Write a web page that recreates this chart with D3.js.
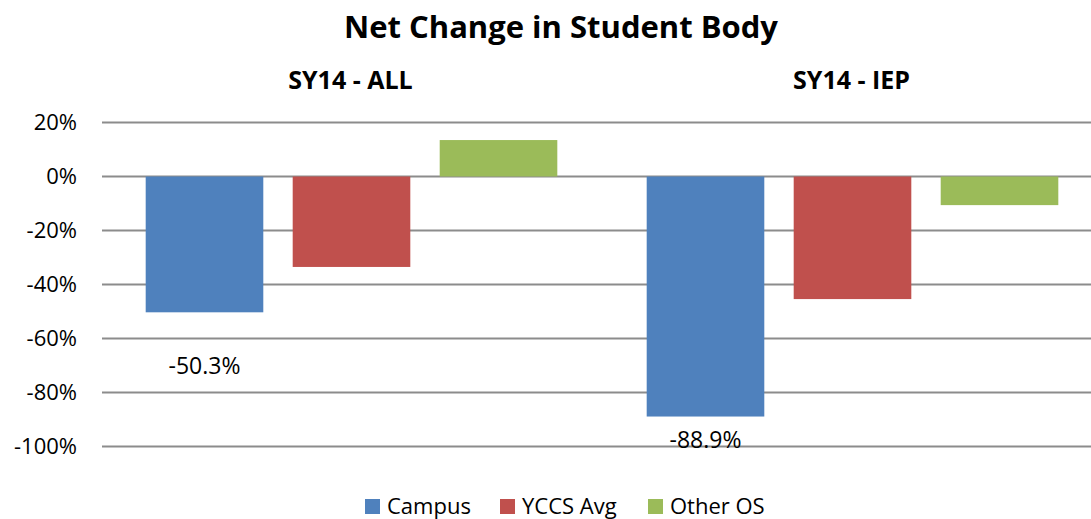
<!DOCTYPE html>
<html>
<head>
<meta charset="utf-8">
<script src="https://cdnjs.cloudflare.com/ajax/libs/d3/7.8.5/d3.min.js"></script>
<style>
  body { margin: 0; background: #fff; }
  svg text { font-family: "Open Sans", Lato, sans-serif; fill: #000; }
</style>
</head>
<body>
<div id="chart"></div>
<script>
/*chart data*/
var groups = ["SY14 - ALL", "SY14 - IEP"];
var series = ["Campus", "YCCS Avg", "Other OS"];
var colors = ["#4F81BD", "#C0504D", "#9BBB59"];
var campus = [-50.3, -88.9];
var yccsAvg = [-33.5, -45.4];
var otherOS = [13.5, -10.6];
var yTicks = [20, 0, -20, -40, -60, -80, -100];

var values = [campus, yccsAvg, otherOS];

/*svg size*/
var svgWidth = 1091;
var svgHeight = 519;

var svg = d3.select("#chart").append("svg")
  .attr("width", svgWidth)
  .attr("height", svgHeight);

/*scales*/
var yScale = d3.scaleLinear().domain([-100, 20]).range([446.5, 122.5]);
var x0 = d3.scaleBand().domain(groups).range([101, 1103]);
var x1 = d3.scaleBand().domain(series).range([0, x0.bandwidth()])
  .paddingInner(0.2).paddingOuter(0.304);
var color = d3.scaleOrdinal().domain(series).range(colors);

/*gridlines*/
svg.append("g")
  .selectAll("line")
  .data(yTicks)
  .enter()
  .append("line")
  .attr("x1", 102)
  .attr("x2", svgWidth)
  .attr("y1", d => yScale(d))
  .attr("y2", d => yScale(d))
  .attr("stroke", "#8c8c8c")
  .attr("stroke-width", 2);

/*y axis labels*/
var leftAxis = d3.axisLeft(yScale).tickValues(yTicks).tickSize(0).tickPadding(0)
  .tickFormat(d => d + "%");
var axisG = svg.append("g")
  .attr("transform", "translate(77,0)")
  .call(leftAxis);
axisG.select(".domain").remove();
axisG.selectAll("text")
  .style("font-family", "'Open Sans', Lato, sans-serif")
  .style("font-size", "22px")
  .attr("fill", "#000");

/*bars*/
var barData = [];
groups.forEach(function(g, gi) {
  series.forEach(function(s, si) {
    barData.push({ group: g, series: s, value: values[si][gi] });
  });
});

svg.append("g")
  .selectAll("rect")
  .data(barData)
  .enter()
  .append("rect")
  .attr("x", d => x0(d.group) + x1(d.series))
  .attr("width", x1.bandwidth())
  .attr("y", d => yScale(Math.max(0, d.value)))
  .attr("height", d => Math.abs(yScale(d.value) - yScale(0)))
  .attr("fill", d => color(d.series));

/*data labels for campus bars (placed by hand in the original)*/
var labelShift = [54, 23];
svg.append("g")
  .selectAll("text")
  .data(groups)
  .enter()
  .append("text")
  .attr("text-anchor", "middle")
  .attr("x", (d, i) => x0(d) + x1("Campus") + x1.bandwidth() / 2)
  .attr("y", (d, i) => yScale(campus[i]) + labelShift[i] + 8)
  .style("font-size", "23px")
  .text((d, i) => campus[i].toFixed(1) + "%");

/*group labels*/
svg.append("g")
  .selectAll("text")
  .data(groups)
  .enter()
  .append("text")
  .attr("text-anchor", "middle")
  .attr("x", d => x0(d) + x0.bandwidth() / 2 - 1)
  .attr("y", 89)
  .style("font-size", "25px")
  .style("font-weight", "bold")
  .text(d => d);

/*title*/
svg.append("text")
  .attr("text-anchor", "middle")
  .attr("x", 561)
  .attr("y", 38)
  .style("font-size", "31px")
  .style("font-weight", "bold")
  .text("Net Change in Student Body");

/*legend*/
var legendX = [365, 500, 648];
var legend = svg.append("g")
  .selectAll("g")
  .data(series)
  .enter()
  .append("g")
  .attr("transform", (d, i) => `translate(${legendX[i]}, 499)`);

legend.append("rect")
  .attr("width", 15)
  .attr("height", 15)
  .attr("fill", d => color(d));

legend.append("text")
  .attr("x", 22)
  .attr("y", 15)
  .style("font-size", "22px")
  .text(d => d);
</script>
</body>
</html>
